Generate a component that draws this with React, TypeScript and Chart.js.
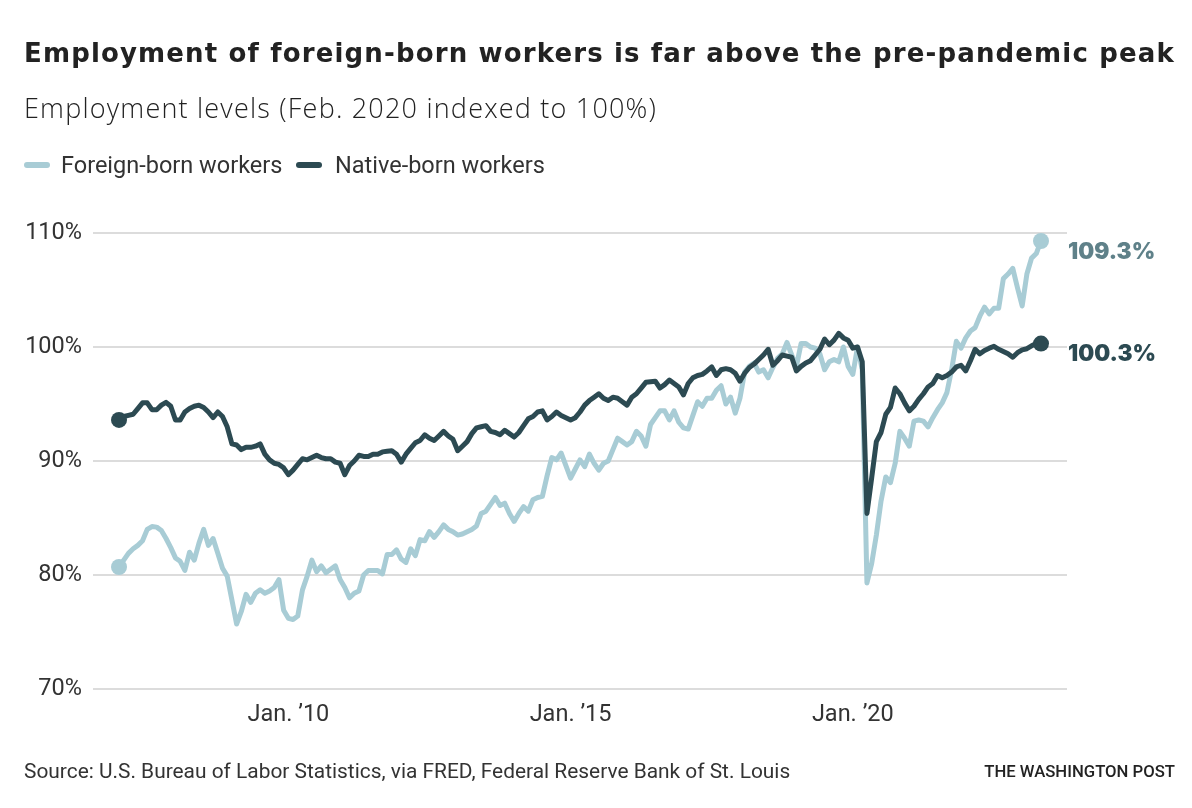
import React, { useEffect, useRef } from "react";
import { Chart, registerables } from "chart.js";
Chart.register(...registerables);

// Monthly values, Jan 2007 (index 0) through May 2023 (index 196)
const nativeBorn = [
  93.6, 93.9, 94.0, 94.1, 94.6, 95.1, 95.1, 94.5, 94.5, 94.9,
  95.15, 94.8, 93.6, 93.6, 94.3, 94.6, 94.8, 94.9, 94.7, 94.3,
  93.8, 94.3, 93.9, 93.0, 91.5, 91.4, 91.0, 91.2, 91.2, 91.3,
  91.5, 90.6, 90.1, 89.8, 89.7, 89.4, 88.8, 89.2, 89.7, 90.2,
  90.1, 90.3, 90.5, 90.3, 90.2, 90.2, 89.9, 89.8, 88.8, 89.6,
  90.0, 90.5, 90.4, 90.4, 90.6, 90.6, 90.8, 90.85, 90.9, 90.6,
  89.9, 90.6, 91.1, 91.6, 91.8, 92.3, 92.0, 91.8, 92.2, 92.6,
  92.2, 91.9, 90.9, 91.3, 91.7, 92.4, 92.9, 93.0, 93.1, 92.6,
  92.5, 92.3, 92.7, 92.4, 92.1, 92.5, 93.1, 93.7, 93.9, 94.3,
  94.4, 93.6, 93.9, 94.3, 94.0, 93.8, 93.6, 93.8, 94.3, 94.9,
  95.3, 95.6, 95.9, 95.5, 95.3, 95.6, 95.5, 95.2, 94.9, 95.6,
  95.9, 96.4, 96.9, 96.95, 97.0, 96.4, 96.7, 97.1, 96.8, 96.5,
  95.8, 96.8, 97.3, 97.5, 97.6, 97.9, 98.25, 97.5, 98.0, 98.1,
  98.0, 97.7, 97.0, 97.7, 98.2, 98.5, 98.9, 99.3, 99.8, 98.4,
  98.8, 99.3, 99.2, 99.1, 97.9, 98.3, 98.6, 98.8, 99.3, 99.8,
  100.7, 100.2, 100.6, 101.2, 100.8, 100.6, 99.9, 100.0, 98.7, 85.4,
  88.5, 91.7, 92.5, 94.1, 94.7, 96.4, 95.9, 95.1, 94.4, 94.8,
  95.4, 95.9, 96.5, 96.8, 97.5, 97.3, 97.5, 97.8, 98.25, 98.4,
  97.9, 98.8, 99.8, 99.4, 99.7, 99.9, 100.06, 99.8, 99.6, 99.4,
  99.1, 99.5, 99.75, 99.85, 100.1, 100.3, 100.3,
];

const foreignBorn = [
  80.7, 81.3, 81.9, 82.3, 82.6, 83.0, 84.0, 84.25, 84.2, 83.9,
  83.2, 82.4, 81.5, 81.2, 80.4, 82.0, 81.3, 82.8, 84.0, 82.6,
  83.2, 81.9, 80.6, 79.9, 77.8, 75.7, 76.8, 78.3, 77.6, 78.4,
  78.7, 78.4, 78.6, 78.9, 79.6, 76.9, 76.2, 76.1, 76.4, 78.7,
  79.9, 81.3, 80.3, 80.8, 80.2, 80.5, 80.8, 79.6, 78.9, 78.0,
  78.4, 78.6, 80.0, 80.4, 80.4, 80.4, 80.1, 81.8, 81.8, 82.2,
  81.4, 81.1, 82.3, 81.7, 83.1, 83.0, 83.8, 83.3, 83.8, 84.4,
  84.0, 83.8, 83.5, 83.6, 83.8, 84.0, 84.3, 85.4, 85.6, 86.2,
  86.8, 86.1, 86.3, 85.4, 84.7, 85.4, 86.0, 85.6, 86.6, 86.8,
  86.9, 88.7, 90.3, 90.1, 90.7, 89.6, 88.5, 89.3, 90.1, 89.5,
  90.6, 89.8, 89.2, 89.8, 90.0, 91.0, 92.0, 91.7, 91.4, 91.7,
  92.6, 92.2, 91.3, 93.2, 93.8, 94.4, 94.4, 93.6, 94.4, 93.4,
  92.9, 92.8, 94.0, 95.2, 94.8, 95.5, 95.5, 96.2, 96.6, 95.0,
  95.6, 94.2, 95.5, 97.8, 98.3, 98.6, 97.8, 98.0, 97.3, 98.2,
  99.0, 99.4, 100.4, 99.3, 98.3, 100.3, 100.3, 100.0, 99.9, 99.4,
  98.0, 98.7, 98.9, 98.7, 100.0, 98.3, 97.6, 100.0, 98.0, 79.3,
  81.0, 83.5, 86.5, 88.6, 88.1, 89.8, 92.6, 92.0, 91.3, 93.5,
  93.6, 93.5, 93.0, 93.8, 94.5, 95.1, 96.0, 98.0, 100.5, 99.9,
  100.8, 101.4, 101.7, 102.7, 103.5, 102.9, 103.4, 103.4, 106.0, 106.4,
  106.9, 105.2, 103.6, 106.4, 107.8, 108.2, 109.3,
];

const xTickMonths = [36, 96, 156];
const xTickLabels = ["Jan. \u201910", "Jan. \u201915", "Jan. \u201920"];
const yTickValues = [70, 80, 90, 100, 110];

const seriesNames = ["Native-born workers", "Foreign-born workers"];
const LIGHT = "#a8ccd5";
const DARK = "#2c4a52";
const LIGHT_LABEL = "#5f8189";

const TITLE = "Employment of foreign-born workers is far above the pre-pandemic peak";
const SUBTITLE = "Employment levels (Feb. 2020 indexed to 100%)";
const SOURCE = "Source: U.S. Bureau of Labor Statistics, via FRED, Federal Reserve Bank of St. Louis";
const CREDIT = "THE WASHINGTON POST";

const FONT = 'Roboto, "Noto Sans", sans-serif';
const TITLE_FONT = '"DejaVu Sans", Roboto, sans-serif';
const SUB_FONT = '"Open Sans", Roboto, sans-serif';
const NUM_FONT = 'Inter, Roboto, sans-serif';

export default function App() {
  const ref = useRef<HTMLCanvasElement | null>(null);

  useEffect(() => {
    const canvas = ref.current;
    if (!canvas) return;
    const last = nativeBorn.length - 1;
    const radius = (ctx: any) => (ctx.dataIndex === 0 || ctx.dataIndex === last ? 8 : 0);

    const endLabels = {
      id: "endLabels",
      afterDatasetsDraw(chart: any) {
        const { ctx, chartArea } = chart;
        chart.data.datasets.forEach((ds: any, di: number) => {
          const meta = chart.getDatasetMeta(di);
          const pt = meta.data[meta.data.length - 1];
          const v = ds.data[ds.data.length - 1].y;
          ctx.save();
          ctx.font = `900 22.5px ${NUM_FONT}`;
          ctx.fillStyle = ds.endLabelColor;
          ctx.textAlign = "left";
          ctx.textBaseline = "middle";
          ctx.fillText(v.toFixed(1) + "%", chartArea.right + 1, pt.y + 11);
          ctx.restore();
        });
      },
    };

    const common = {
      borderWidth: 5,
      pointRadius: radius,
      pointHoverRadius: 0,
      pointBorderWidth: 0,
      borderJoinStyle: "round",
      borderCapStyle: "round",
      tension: 0,
      clip: false,
    };

    const chart = new Chart(canvas, {
      type: "line",
      data: {
        datasets: [
          {
            ...common,
            label: seriesNames[0],
            data: nativeBorn.map((v, i) => ({ x: i, y: v })),
            borderColor: DARK,
            backgroundColor: DARK,
            endLabelColor: DARK,
          } as any,
          {
            ...common,
            label: seriesNames[1],
            data: foreignBorn.map((v, i) => ({ x: i, y: v })),
            borderColor: LIGHT,
            backgroundColor: LIGHT,
            endLabelColor: LIGHT_LABEL,
          } as any,
        ],
      },
      options: {
        animation: false,
        responsive: false,
        devicePixelRatio: 1,
        events: [],
        layout: { padding: { left: 0, right: 125, top: 233, bottom: 0 } },
        plugins: { legend: { display: false }, tooltip: { enabled: false }, title: { display: false } },
        scales: {
          x: {
            type: "linear",
            min: -5.53,
            max: 201.53,
            afterFit: (s: any) => { s.height = 119; },
            afterBuildTicks: (s: any) => { s.ticks = xTickMonths.map((v) => ({ value: v })); },
            ticks: {
              autoSkip: false,
              maxRotation: 0,
              padding: 12,
              color: "#333",
              font: { family: FONT, size: 23.5 },
              callback: (v: any) => xTickLabels[xTickMonths.indexOf(Number(v))] ?? "",
            },
            grid: { display: false, drawTicks: false },
            border: { display: false },
          },
          y: {
            min: 70,
            max: 110,
            afterFit: (s: any) => { s.width = 93; },
            afterBuildTicks: (s: any) => { s.ticks = yTickValues.map((v) => ({ value: v })); },
            ticks: {
              padding: 11,
              color: "#333",
              font: { family: FONT, size: 23.5 },
              callback: (v: any) => `${v}%`,
            },
            grid: { color: "#dcdcdc", lineWidth: 2, drawTicks: false },
            border: { display: false },
          },
        },
      },
      plugins: [endLabels],
    } as any);
    return () => chart.destroy();
  }, []);

  const swatch = (color: string, left: number) => ({
    position: "absolute" as const, left, top: 162, width: 26, height: 6, borderRadius: 3, background: color,
  });
  const text = (extra: any) => ({ position: "absolute" as const, whiteSpace: "nowrap" as const, ...extra });

  return (
    <div style={{ position: "absolute", left: 0, top: 0, width: 1192, height: 808, background: "#fff", fontFamily: FONT, color: "#222", overflow: "hidden" }}>
      <canvas ref={ref} width={1192} height={808} style={{ position: "absolute", left: 0, top: 0, width: 1192, height: 808 }} />
      <div style={text({ left: 24, top: 40, fontFamily: TITLE_FONT, fontSize: 26, lineHeight: "26px", fontWeight: 700, letterSpacing: "1.15px", color: "#222" })}>{TITLE}</div>
      <div style={text({ left: 24, top: 94, fontFamily: SUB_FONT, fontSize: 27, lineHeight: "27px", fontWeight: 300, letterSpacing: "1.2px", color: "#222" })}>{SUBTITLE}</div>
      <div style={swatch(LIGHT, 24)} />
      <div style={text({ left: 61, top: 153.5, fontSize: 23.5, lineHeight: "23.5px", color: "#333" })}>{seriesNames[1]}</div>
      <div style={swatch(DARK, 296)} />
      <div style={text({ left: 335, top: 153.5, fontSize: 23.5, lineHeight: "23.5px", color: "#333" })}>{seriesNames[0]}</div>
      <div style={text({ left: 24, top: 761, fontSize: 20.9, lineHeight: "20.9px", color: "#333" })}>{SOURCE}</div>
      <div style={text({ right: 17, top: 764, fontSize: 16.7, lineHeight: "16.7px", fontWeight: 500, color: "#222" })}>{CREDIT}</div>
    </div>
  );
}
